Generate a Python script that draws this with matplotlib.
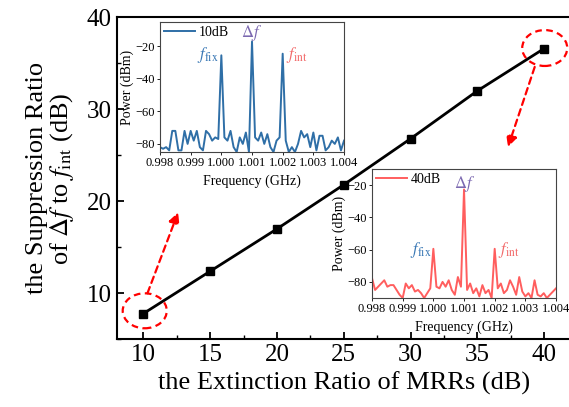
import numpy as np
import matplotlib
matplotlib.use("Agg")
import matplotlib.pyplot as plt
from matplotlib.patches import Ellipse
from matplotlib.ticker import MultipleLocator, FormatStrFormatter

plt.rcParams['font.family'] = ['Liberation Serif', 'DejaVu Serif']
plt.rcParams['mathtext.fontset'] = 'stix'

# ---- main curve ----
er_db = [10, 15, 20, 25, 30, 35, 40]
sr_db = [7.8, 12.4, 17.0, 21.8, 26.8, 32.0, 36.6]

# ---- inset spectra (0.998 ~ 1.004 GHz, 0.1 MHz step) ----
freq_ghz = np.linspace(0.998, 1.004, 61)
power_10db = [-82, -83, -82, -84, -72, -72, -84, -84, -72, -80,
              -72, -78, -72, -82, -84, -72, -74, -78, -76, -77,
              -25.5, -76, -78, -72, -82, -85, -76, -80, -73, -85,
              -17, -76, -78, -73, -80, -74, -82, -85, -78, -76,
              -24.5, -78, -85, -82, -85, -80, -72, -76, -74, -82,
              -73, -84, -75, -75, -84, -82, -78, -80, -76, -84, -78]
power_40db = [-77.7, -85, -83, -81, -79, -83, -82, -82, -85, -88,
              -90, -81, -84, -82, -86, -85, -87, -90, -87, -84,
              -59.5, -83, -84, -80, -83, -79, -85, -88, -77, -83,
              -22.7, -85, -81, -87, -84, -89, -82, -87, -85, -90,
              -59.5, -84, -81, -87, -85, -79, -83, -88, -77, -86,
              -89, -87, -90, -79, -88, -89, -87, -90, -88, -86, -84]

BLUE = "#2f6fa7"
RED = "#ff5e5e"
LBL_BLUE = "#3a78b5"
LBL_PURPLE = "#7b68b0"
LBL_RED = "#f26b6b"
DASH = (0, (3, 2))

fig = plt.figure(figsize=(5.69, 4.07), dpi=100)

ax = fig.add_axes([0.2051, 0.1663, 0.798, 0.7912])
ax.plot(er_db, sr_db, color='k', lw=2, marker='s', ms=6, zorder=3)
ax.set_xlim(8, 42)
ax.set_ylim(5, 40)
ax.xaxis.set_major_locator(MultipleLocator(5))
ax.xaxis.set_minor_locator(MultipleLocator(2.5))
ax.yaxis.set_major_locator(MultipleLocator(10))
ax.yaxis.set_minor_locator(MultipleLocator(5))
ax.tick_params(which='major', direction='in', length=5, width=1.3, labelsize=18)
ax.tick_params(which='minor', direction='in', length=3, width=1.0)
for sp in ax.spines.values():
    sp.set_linewidth(1.5)
ax.set_xlabel('the Extinction Ratio of MRRs (dB)', fontsize=19, labelpad=4)
ax.set_ylabel('the Suppression Ratio\nof $\\Delta f$ to $f_{\\rm int}$ (dB)',
              fontsize=19, labelpad=8, linespacing=1.0)

# red dashed circles + arrows
ax.add_patch(Ellipse((10.1, 8.1), 3.3, 3.8, fill=False, ec='red', ls=DASH, lw=1.6, zorder=4))
ax.add_patch(Ellipse((40.05, 36.66), 3.37, 3.9, fill=False, ec='red', ls=DASH, lw=1.6, zorder=4))
ax.annotate('', xy=(12.6, 18.8), xytext=(10.3, 10.0),
            arrowprops=dict(arrowstyle='-|>', ls=DASH, color='red', lw=1.6,
                            mutation_scale=16, shrinkA=0, shrinkB=0))
ax.annotate('', xy=(37.3, 25.9), xytext=(39.3, 34.6),
            arrowprops=dict(arrowstyle='-|>', ls=DASH, color='red', lw=1.6,
                            mutation_scale=16, shrinkA=0, shrinkB=0))


def style_inset(a, ylim):
    a.set_xlim(0.998, 1.004)
    a.set_ylim(*ylim)
    a.set_xticks(np.linspace(0.998, 1.004, 7))
    a.xaxis.set_major_formatter(FormatStrFormatter('%.3f'))
    a.set_yticks([-80, -60, -40, -20])
    a.tick_params(labelsize=9, length=2, width=0.6, pad=1.5)
    for sp in a.spines.values():
        sp.set_linewidth(0.8)
        sp.set_color('#444444')
    a.set_xlabel('Frequency (GHz)', fontsize=10, labelpad=4)
    a.set_ylabel('Power (dBm)', fontsize=10, labelpad=1)


ins1 = fig.add_axes([0.2812, 0.6265, 0.3234, 0.3194])
ins1.plot(freq_ghz, power_10db, color=BLUE, lw=1.4, label='10dB')
style_inset(ins1, (-85, -5))
ins1.legend(loc='upper left', frameon=False, fontsize=10, handlelength=2.2,
            handletextpad=0.3, borderaxespad=0.1, borderpad=0.2)
ins1.text(0.99993, -25, '$f_{\\rm fix}$', color=LBL_BLUE, ha='right', va='center', fontsize=12)
ins1.text(1.001, -11.5, '$\\Delta f$', color=LBL_PURPLE, ha='center', va='center', fontsize=12)
ins1.text(1.0021, -25, '$f_{\\rm int}$', color=LBL_RED, ha='left', va='center', fontsize=12)

ins2 = fig.add_axes([0.6538, 0.2678, 0.3234, 0.317])
ins2.plot(freq_ghz, power_40db, color=RED, lw=1.4, label='40dB')
style_inset(ins2, (-90, -10))
ins2.legend(loc='upper left', frameon=False, fontsize=10, handlelength=2.2,
            handletextpad=0.3, borderaxespad=0.1, borderpad=0.2)
ins2.text(0.99995, -60.5, '$f_{\\rm fix}$', color=LBL_BLUE, ha='right', va='center', fontsize=12)
ins2.text(1.00101, -19.5, '$\\Delta f$', color=LBL_PURPLE, ha='center', va='center', fontsize=12)
ins2.text(1.0021, -60, '$f_{\\rm int}$', color=LBL_RED, ha='left', va='center', fontsize=12)

fig.savefig('out.png', dpi=100)
